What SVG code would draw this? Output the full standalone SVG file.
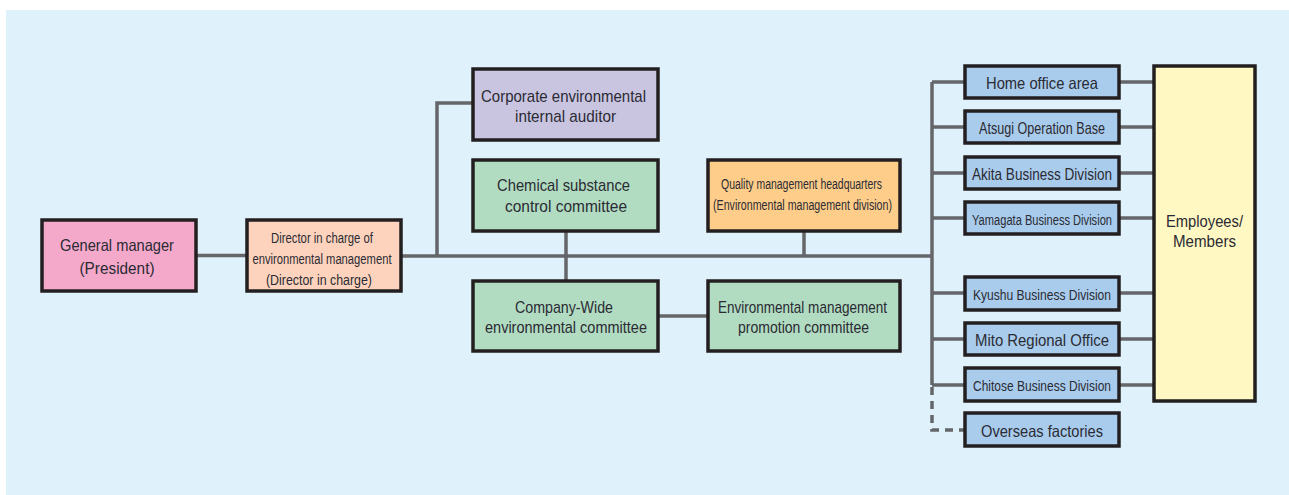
<svg xmlns="http://www.w3.org/2000/svg" width="1289" height="495" viewBox="0 0 1289 495">
<style>
.box{stroke:#231f20;stroke-width:3.5}
.t{font-family:"Liberation Sans",Arial,sans-serif;fill:#2b2b33;text-anchor:middle}
.l{stroke:#646669;stroke-width:3.5;fill:none}
.d{stroke:#646669;stroke-width:3.5;fill:none;stroke-dasharray:8 6}
</style>
<rect x="6" y="10" width="1283" height="485" fill="#dff1fb"/>
<g id="connectors">
<path class="l" d="M196 255.5H247"/>
<path class="l" d="M401 256H932"/>
<path class="l" d="M437 256V103H473"/>
<path class="l" d="M566 231V281"/>
<path class="l" d="M804 231V256"/>
<path class="l" d="M658 316H708"/>
<path class="l" d="M932 82V385"/>
<path class="d" d="M932 387V430H965"/>
<path class="l" d="M932 82H965M932 127H965M932 173H965M932 218H965M932 293H965M932 339H965M932 385H965"/>
<path class="l" d="M1119 82H1154M1119 127H1154M1119 173H1154M1119 218H1154M1119 293H1154M1119 339H1154M1119 385H1154"/>
</g>
<g id="general-manager"><rect class="box" x="42" y="220" width="154" height="71" fill="#f4a9cb"/><text class="t" font-size="16.5" x="117" y="251" textLength="114" lengthAdjust="spacingAndGlyphs">General manager</text><text class="t" font-size="16.5" x="117" y="274" textLength="75" lengthAdjust="spacingAndGlyphs">(President)</text></g>
<g id="director"><rect class="box" x="247" y="220" width="154" height="71" fill="#fdd3bd"/><text class="t" font-size="14" x="322" y="243" textLength="102" lengthAdjust="spacingAndGlyphs">Director in charge of</text><text class="t" font-size="14" x="322" y="264" textLength="139" lengthAdjust="spacingAndGlyphs">environmental management</text><text class="t" font-size="14" x="319" y="285" textLength="106" lengthAdjust="spacingAndGlyphs">(Director in charge)</text></g>
<g id="auditor"><rect class="box" x="473" y="69" width="185" height="71" fill="#c9c5e1"/><text class="t" font-size="17" x="563.5" y="102" textLength="165" lengthAdjust="spacingAndGlyphs">Corporate environmental</text><text class="t" font-size="17" x="565.5" y="122" textLength="101" lengthAdjust="spacingAndGlyphs">internal auditor</text></g>
<g id="chemical"><rect class="box" x="473" y="160" width="185" height="71" fill="#b1dcc2"/><text class="t" font-size="17" x="563.5" y="191" textLength="133" lengthAdjust="spacingAndGlyphs">Chemical substance</text><text class="t" font-size="17" x="566" y="212" textLength="122" lengthAdjust="spacingAndGlyphs">control committee</text></g>
<g id="quality"><rect class="box" x="708" y="160" width="192" height="71" fill="#ffcd8a"/><text class="t" font-size="14" x="801.5" y="189" textLength="161" lengthAdjust="spacingAndGlyphs">Quality management headquarters</text><text class="t" font-size="14" x="802.5" y="210" textLength="179" lengthAdjust="spacingAndGlyphs">(Environmental management division)</text></g>
<g id="company-wide"><rect class="box" x="473" y="281" width="185" height="70" fill="#b1dcc2"/><text class="t" font-size="17" x="564" y="313" textLength="98" lengthAdjust="spacingAndGlyphs">Company-Wide</text><text class="t" font-size="17" x="566" y="333" textLength="162" lengthAdjust="spacingAndGlyphs">environmental committee</text></g>
<g id="promotion"><rect class="box" x="708" y="281" width="192" height="70" fill="#b1dcc2"/><text class="t" font-size="17" x="802.5" y="313" textLength="169" lengthAdjust="spacingAndGlyphs">Environmental management</text><text class="t" font-size="17" x="803.5" y="333" textLength="131" lengthAdjust="spacingAndGlyphs">promotion committee</text></g>
<g id="home-office"><rect class="box" x="965" y="66" width="154" height="32" fill="#a9cced"/><text class="t" font-size="16.5" x="1042" y="89" textLength="112" lengthAdjust="spacingAndGlyphs">Home office area</text></g>
<g id="atsugi"><rect class="box" x="965" y="111" width="154" height="32" fill="#a9cced"/><text class="t" font-size="16.5" x="1042" y="134" textLength="126" lengthAdjust="spacingAndGlyphs">Atsugi Operation Base</text></g>
<g id="akita"><rect class="box" x="965" y="157" width="154" height="32" fill="#a9cced"/><text class="t" font-size="16.5" x="1042" y="180" textLength="140" lengthAdjust="spacingAndGlyphs">Akita Business Division</text></g>
<g id="yamagata"><rect class="box" x="965" y="202" width="154" height="32" fill="#a9cced"/><text class="t" font-size="15.5" x="1042" y="225" textLength="140" lengthAdjust="spacingAndGlyphs">Yamagata Business Division</text></g>
<g id="kyushu"><rect class="box" x="965" y="277" width="154" height="33" fill="#a9cced"/><text class="t" font-size="15.5" x="1042" y="300" textLength="138" lengthAdjust="spacingAndGlyphs">Kyushu Business Division</text></g>
<g id="mito"><rect class="box" x="965" y="323" width="154" height="32" fill="#a9cced"/><text class="t" font-size="16.5" x="1042" y="346" textLength="134" lengthAdjust="spacingAndGlyphs">Mito Regional Office</text></g>
<g id="chitose"><rect class="box" x="965" y="368" width="154" height="33" fill="#a9cced"/><text class="t" font-size="15.5" x="1042" y="391" textLength="138" lengthAdjust="spacingAndGlyphs">Chitose Business Division</text></g>
<g id="overseas"><rect class="box" x="965" y="413" width="154" height="33" fill="#a9cced"/><text class="t" font-size="16.5" x="1042" y="437" textLength="122" lengthAdjust="spacingAndGlyphs">Overseas factories</text></g>
<g id="employees"><rect class="box" x="1154" y="66" width="101" height="335" fill="#fff8c2"/><text class="t" font-size="17" x="1204.5" y="227" textLength="77" lengthAdjust="spacingAndGlyphs">Employees/</text><text class="t" font-size="17" x="1204.5" y="247" textLength="63" lengthAdjust="spacingAndGlyphs">Members</text></g>
</svg>
